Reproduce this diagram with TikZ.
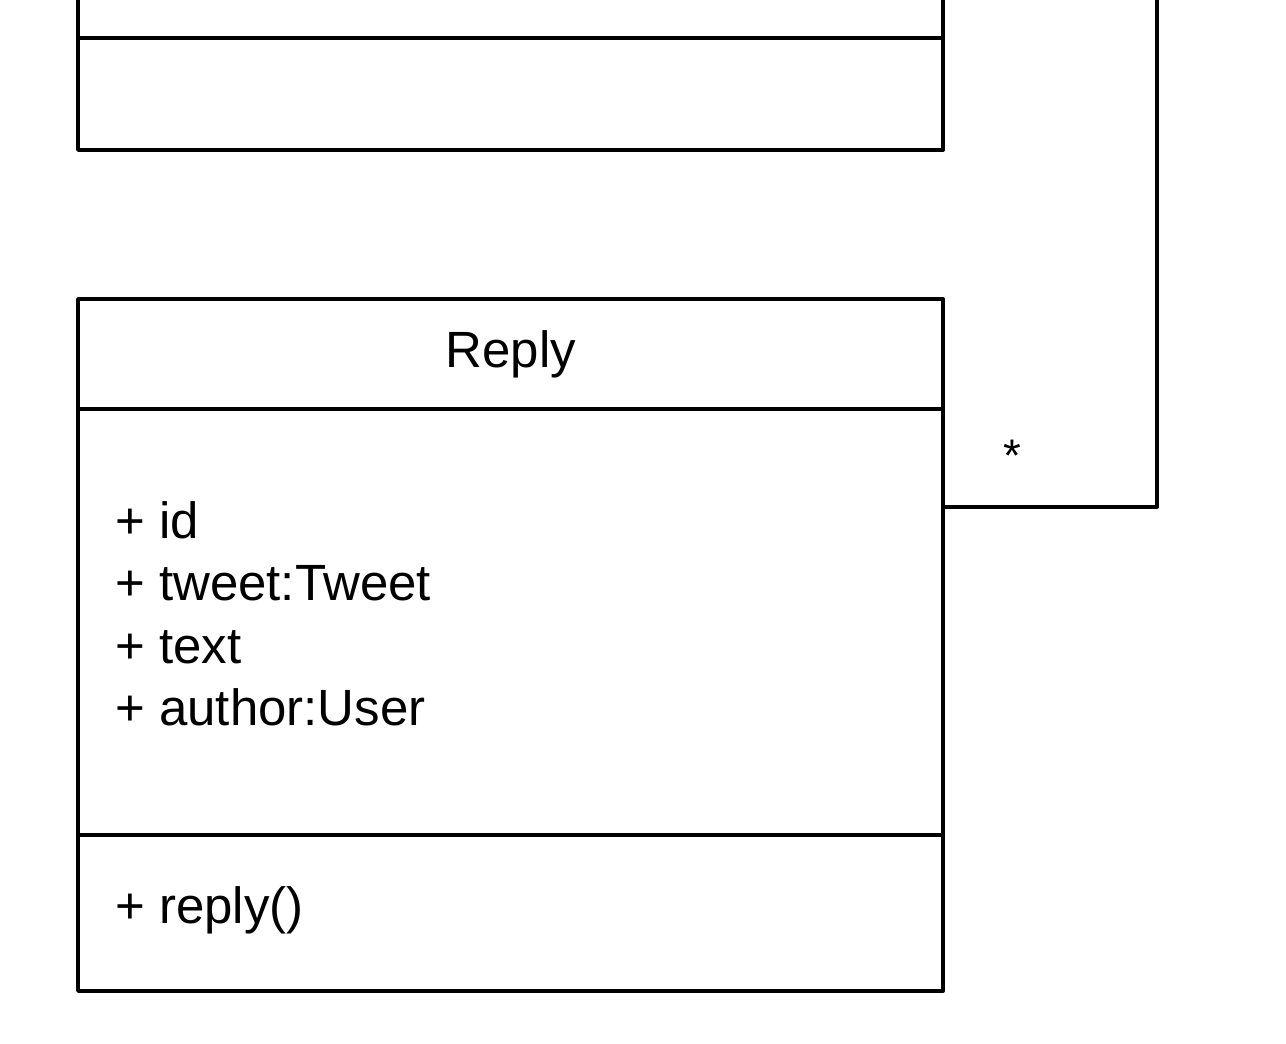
\documentclass[tikz,border=0pt]{standalone}
\usepackage{fontspec}
\setmainfont{Liberation Sans}
\usetikzlibrary{positioning}

\tikzset{
  classpart/.style={draw, line width=2.2pt, minimum width=17.3cm, inner sep=0pt, outer sep=0pt, anchor=north west},
  member/.style={anchor=base west, inner sep=0pt, font=\fontsize{29}{36}\selectfont},
  mult/.style={anchor=base, inner sep=0pt, font=\fontsize{26}{32}\selectfont},
}

\begin{document}
\begin{tikzpicture}[line cap=round, line join=round, x=0.02cm, y=-0.02cm]

  \clip (0,0) rectangle (1286,1044);

  % class cut off at the top edge
  \node[classpart, minimum height=4cm] (tweethead) at (78,-162) {};
  \node[classpart, minimum height=2.24cm] (tweetops) at (78,38) {};

  % Reply class
  \node[classpart, minimum height=2.2cm] (replyhead) at (78,299) {};
  \node[classpart, minimum height=8.52cm] (replyattr) at (78,409) {};
  \node[classpart, minimum height=3.12cm] (replyops) at (78,835) {};

  \node[member, anchor=base] (replyname) at (511,368) {Reply};

  \node[member] (attrid) at (115,539) {+ id};
  \node[member] (attrtweet) at (115,601) {+ tweet:Tweet};
  \node[member] (attrtext) at (115,663) {+ text};
  \node[member] (attrauthor) at (115,725) {+ author:User};

  \node[member] (opreply) at (115,923) {+ reply()};

  % association going off the top edge
  \coordinate (assocbend) at (1157,507);
  \coordinate (assocend) at (1157,-20);
  \draw[line width=2.2pt] (assocbend -| replyattr.east) -- (assocbend) -- (assocend);
  \node[mult] (replymult) at (1012,472) {*};

\end{tikzpicture}
\end{document}
